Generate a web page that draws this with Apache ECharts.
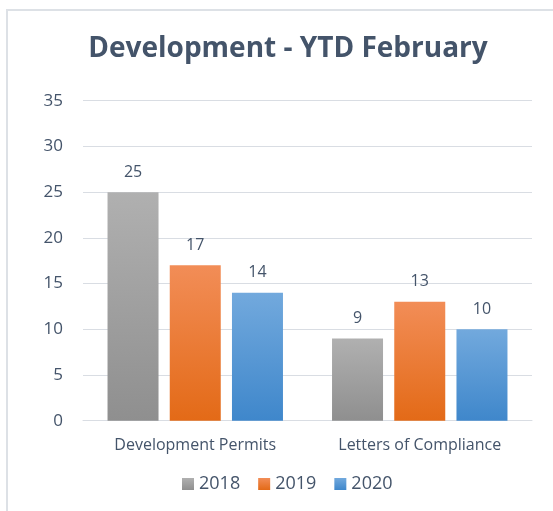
<!DOCTYPE html>
<html>
<head>
<meta charset="utf-8">
<script src="https://cdn.jsdelivr.net/npm/echarts@6/dist/echarts.min.js"></script>
<style>
  html, body { margin: 0; padding: 0; background: #fff; }
  #chart_con { width: 553px; height: 511px; }
</style>
</head>
<body>
<div id="chart_con"></div>
<script>
const categories = ["Development Permits", "Letters of Compliance"];
const years = ["2018", "2019", "2020"];
const values2018 = [25, 9];
const values2019 = [17, 13];
const values2020 = [14, 10];
const yTicks = [0, 5, 10, 15, 20, 25, 30, 35];

const textColor = "#44546a";
const font = "'Open Sans', 'Liberation Sans', sans-serif";

function grad(top, bottom) {
  return new echarts.graphic.LinearGradient(0, 0, 0, 1, [
    { offset: 0, color: top },
    { offset: 1, color: bottom }
  ]);
}

function makeSeries(name, data, top, bottom) {
  return {
    name: name,
    type: "bar",
    data: data,
    barWidth: 51,
    barGap: "22%",
    itemStyle: { color: grad(top, bottom) },
    label: {
      show: true,
      position: "top",
      distance: 12,
      color: textColor,
      fontFamily: font,
      fontSize: 16
    }
  };
}

const option = {
  animation: false,
  color: ["#a0a0a0", "#ed7d31", "#5b9bd5"],
  title: {
    text: "Development - YTD February",
    left: 283,
    top: 30,
    textAlign: "center",
    textStyle: { color: textColor, fontFamily: font, fontSize: 28, fontWeight: "bold" }
  },
  legend: {
    data: years,
    bottom: 13,
    left: 177,
    itemWidth: 12,
    itemHeight: 12,
    itemGap: 18,
    icon: "rect",
    textStyle: { color: textColor, fontFamily: font, fontSize: 18 }
  },
  graphic: [
    {
      type: "polyline",
      shape: { points: [[553, 10], [7, 10], [7, 511]] },
      style: { fill: "none", stroke: "#dde1e6", lineWidth: 2 },
      z: -1
    }
  ],
  grid: { left: 83, right: 21, top: 100.7, bottom: 90.3 },
  xAxis: {
    type: "category",
    data: categories,
    axisLine: { lineStyle: { color: "#d9dde3", width: 1 } },
    axisTick: { show: false },
    axisLabel: { color: textColor, fontFamily: font, fontSize: 16, margin: 17 }
  },
  yAxis: {
    type: "value",
    min: yTicks[0],
    max: yTicks[yTicks.length - 1],
    interval: 5,
    axisLine: { show: false },
    axisTick: { show: false },
    splitLine: { lineStyle: { color: "#d9dde3" } },
    axisLabel: { color: textColor, fontFamily: font, fontSize: 17, margin: 20 }
  },
  series: [
    makeSeries(years[0], values2018, "#b0b0b0", "#8f8f8f"),
    makeSeries(years[1], values2019, "#f28d57", "#e36a17"),
    makeSeries(years[2], values2020, "#72a9dd", "#3f87cb")
  ]
};

const chart = echarts.init(document.getElementById("chart_con"));
chart.setOption(option);
window.addEventListener("resize", function() {
  chart.resize();
});
</script>
</body>
</html>
